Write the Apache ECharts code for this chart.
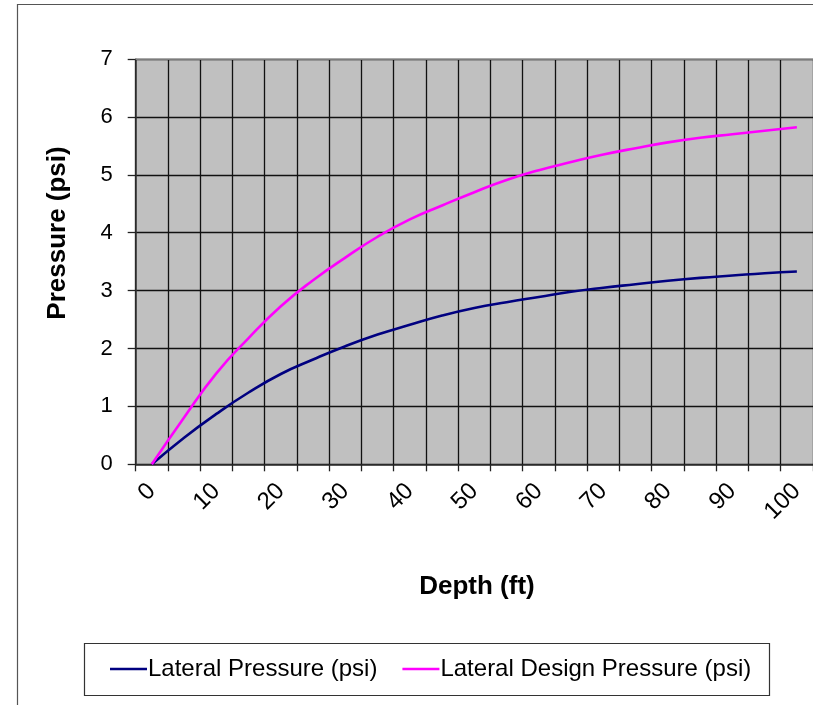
<!DOCTYPE html>
<html>
<head>
<meta charset="utf-8">
<script src="https://cdn.jsdelivr.net/npm/echarts@6/dist/echarts.min.js"></script>
<style>
html,body{margin:0;padding:0;background:#fff;}
#chart{width:813px;height:705px;}
</style>
</head>
<body>
<div id="chart"></div>
<script>
// Depth (ft)
var depthFt = [0,5,10,15,20,25,30,35,40,45,50,55,60,65,70,75,80,85,90,95,100];
// Lateral Pressure (psi)
var lateralPressure = [0,0.46,0.87,1.24,1.56,1.81,2.04,2.24,2.41,2.57,2.70,2.80,2.89,2.98,3.05,3.11,3.17,3.22,3.26,3.30,3.33];
// Lateral Design Pressure (psi)
var designPressure = [0,0.81,1.57,2.18,2.73,3.18,3.57,3.93,4.23,4.47,4.70,4.91,5.08,5.22,5.35,5.46,5.56,5.64,5.70,5.76,5.82];
var xTickLabels = [0,10,20,30,40,50,60,70,80,90,100];
var yTickLabels = [0,1,2,3,4,5,6,7];
var seriesNames = ['Lateral Pressure (psi)', 'Lateral Design Pressure (psi)'];

function pairs(xs, ys){ return xs.map(function(x,i){ return [x, ys[i]]; }); }

var FONT = "'Liberation Sans',Arial,sans-serif";
var chart = echarts.init(document.getElementById('chart'), null, {renderer:'canvas'});
chart.setOption({
  animation:false,
  backgroundColor:'#ffffff',
  grid:{left:135.7, top:59, width:678, height:405.3, show:true, backgroundColor:'#c0c0c0', borderWidth:0},
  xAxis:[{
    type:'value', min:-2.5, max:102.5, interval:5, position:'bottom',
    axisLine:{show:true, onZero:false, lineStyle:{color:'#333', width:1.5}},
    axisTick:{show:true, length:7, lineStyle:{color:'#222', width:1.3}},
    axisLabel:{show:false},
    splitLine:{show:true, lineStyle:{color:'#111', width:1.3}}
  },{
    type:'value', min:-2.5, max:102.5, position:'bottom',
    axisLine:{show:false, onZero:false}, axisTick:{show:false}, splitLine:{show:false},
    axisLabel:{show:true, customValues:xTickLabels, rotate:45, margin:23,
      fontFamily:FONT, fontSize:24, color:'#000'}
  }],
  yAxis:{
    type:'value', min:0, max:7, interval:1,
    axisLine:{show:true, onZero:false, lineStyle:{color:'#333', width:1.5}},
    axisTick:{show:true, length:8, lineStyle:{color:'#222', width:1.3}},
    axisLabel:{margin:23, fontFamily:FONT, fontSize:22, color:'#000',
      formatter:function(v){ return yTickLabels.indexOf(v) >= 0 ? String(v) : ''; }},
    splitLine:{show:true, lineStyle:{color:'#111', width:1.3}}
  },
  legend:{
    left:110, top:657, padding:0, itemGap:25, itemWidth:37, itemHeight:2.5,
    icon:'rect',
    textStyle:{fontFamily:FONT, fontSize:24, color:'#000', padding:[0,0,0,-4]},
    data:seriesNames
  },
  series:[{
    name:seriesNames[0], type:'line', xAxisIndex:0, data:pairs(depthFt, lateralPressure),
    smooth:true, showSymbol:false, symbol:'none',
    lineStyle:{color:'#000080', width:2.6}, itemStyle:{color:'#000080'}
  },{
    name:seriesNames[1], type:'line', xAxisIndex:0, data:pairs(depthFt, designPressure),
    smooth:true, showSymbol:false, symbol:'none',
    lineStyle:{color:'#ff00ff', width:2.6}, itemStyle:{color:'#ff00ff'}
  }],
  graphic:[
    {type:'rect', z:-10, shape:{x:17.5, y:4.5, width:830, height:730}, style:{fill:'none', stroke:'#555', lineWidth:1.2}, silent:true},
    {type:'line', z:10, shape:{x1:135.7, y1:59, x2:813, y2:59}, style:{stroke:'#a0a0a0', lineWidth:1.5}, silent:true},
    {type:'rect', z:-5, shape:{x:84.5, y:643.5, width:685, height:52}, style:{fill:'#fff', stroke:'#333', lineWidth:1.2}, silent:true},
    {type:'text', x:58, y:233, rotation:Math.PI/2,
      style:{text:'Pressure (psi)', font:"bold 26px 'Liberation Sans',Arial,sans-serif", fill:'#000', align:'center', verticalAlign:'middle'}},
    {type:'text', x:477, y:587,
      style:{text:'Depth (ft)', font:"bold 26px 'Liberation Sans',Arial,sans-serif", fill:'#000', align:'center', verticalAlign:'middle'}}
  ]
});
</script>
</body>
</html>
